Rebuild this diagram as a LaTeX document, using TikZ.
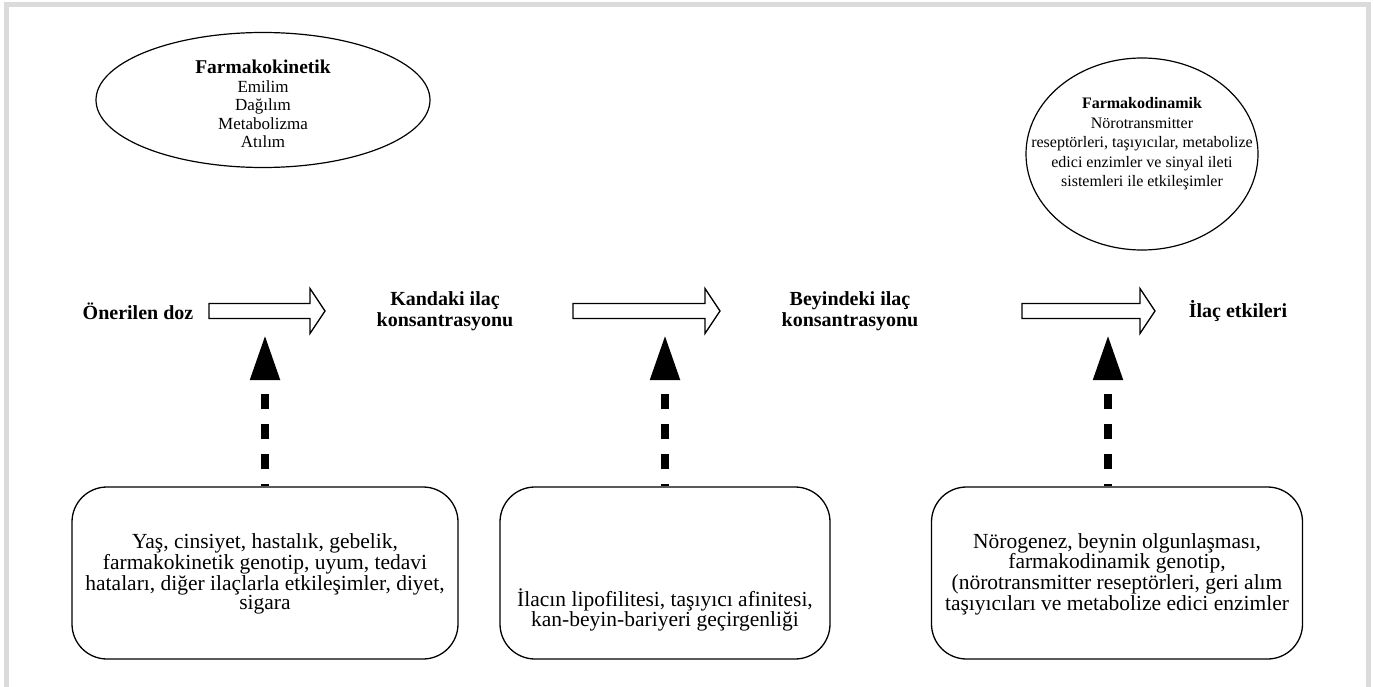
\documentclass[tikz,border=0pt]{standalone}
\usepackage{fontspec}
\setmainfont{Liberation Serif}
\usetikzlibrary{arrows.meta, positioning, calc, shapes.geometric}
\tikzset{
  phaseellipse/.style={draw, ellipse, line width=1.2pt, inner sep=0pt},
  phasetext/.style={align=center, font=\fontsize{17}{18.5}\selectfont},
  stagelabel/.style={align=center, font=\bfseries\fontsize{20}{21}\selectfont},
  factorbox/.style={
    draw, rounded corners=35pt, line width=1.3pt, align=center,
    minimum height=172pt, font=\fontsize{21.5}{19}\selectfont
  },
  hollow/.style={draw, line width=1.3pt, fill=white, line join=miter},
  influence/.style={line width=8pt, dash pattern=on 15pt off 15pt, dash phase=13pt,
    -{Triangle[length=45pt, width=28pt]}},
}
\newcommand{\hollowarrow}[2]{%
  \draw[hollow] ($(#1)+(0,-7.5)$) -- ($(#2)+(-15,-7.5)$) -- ($(#2)+(-15,-22.5)$) -- (#2)
    -- ($(#2)+(-15,22.5)$) -- ($(#2)+(-15,7.5)$) -- ($(#1)+(0,7.5)$) -- cycle;}
\begin{document}
\begin{tikzpicture}[x=1pt, y=-1pt]
  \useasboundingbox (0,0) rectangle (1373,687);
  \draw[black!14, line width=5pt] (6.5,4.5) rectangle (1368.5,700);

  % Ellipses
  \node[phaseellipse, minimum width=334pt, minimum height=135pt] (pk) at (263,100) {};
  \node[phasetext] (pktext) at (263,104) {{\bfseries\fontsize{19.5}{18.5}\selectfont Farmakokinetik}\\Emilim\\Dağılım\\Metabolizma\\Atılım};
  \node[phaseellipse, minimum width=232pt, minimum height=192pt] (pd) at (1142,154) {};
  \node[phasetext, font=\fontsize{16}{19.5}\selectfont] (pdtext) at (1142,144) {{\bfseries\fontsize{16}{19.5}\selectfont Farmakodinamik}\\Nörotransmitter\\reseptörleri, taşıyıcılar, metabolize\\edici enzimler ve sinyal ileti\\sistemleri ile etkileşimler};

  % Stages
  \node[stagelabel] (dose) at (138,311) {Önerilen doz};
  \node[stagelabel] (blood) at (445,311) {Kandaki ilaç\\konsantrasyonu};
  \node[stagelabel] (brain) at (850,311) {Beyindeki ilaç\\konsantrasyonu};
  \node[stagelabel] (effect) at (1238,311) {İlaç etkileri};

  \coordinate (a1s) at (209,311); \coordinate (a1e) at (325,311);
  \coordinate (a2s) at (573,311); \coordinate (a2e) at (720,311);
  \coordinate (a3s) at (1022,311); \coordinate (a3e) at (1155,311);
  \hollowarrow{a1s}{a1e}
  \hollowarrow{a2s}{a2e}
  \hollowarrow{a3s}{a3e}

  % Factors
  \node[factorbox, minimum width=386pt] (f1) at (265,573) {};
  \node[factorbox, draw=none, minimum height=0pt] (f1text) at (265,574) {Yaş, cinsiyet, hastalık, gebelik,\\farmakokinetik genotip, uyum, tedavi\\hataları, diğer ilaçlarla etkileşimler, diyet,\\sigara};
  \node[factorbox, minimum width=330pt] (f2) at (665,573) {};
  \node[factorbox, draw=none, minimum height=0pt] (f2text) at (665,610) {İlacın lipofilitesi, taşıyıcı afinitesi,\\kan-beyin-bariyeri geçirgenliği};
  \node[factorbox, minimum width=371pt] (f3) at (1117,573) {};
  \node[factorbox, draw=none, minimum height=0pt] (f3text) at (1117,574) {Nörogenez, beynin olgunlaşması,\\farmakodinamik genotip,\\(nörotransmitter reseptörleri, geri alım\\taşıyıcıları ve metabolize edici enzimler};

  \coordinate (t1) at (265,335);
  \coordinate (t2) at (665,335);
  \coordinate (t3) at (1108,335);
  \draw[influence] (f1.north) -- (t1);
  \draw[influence] (f2.north) -- (t2);
  \draw[influence] (t3 |- f3.north) -- (t3);
\end{tikzpicture}
\end{document}
